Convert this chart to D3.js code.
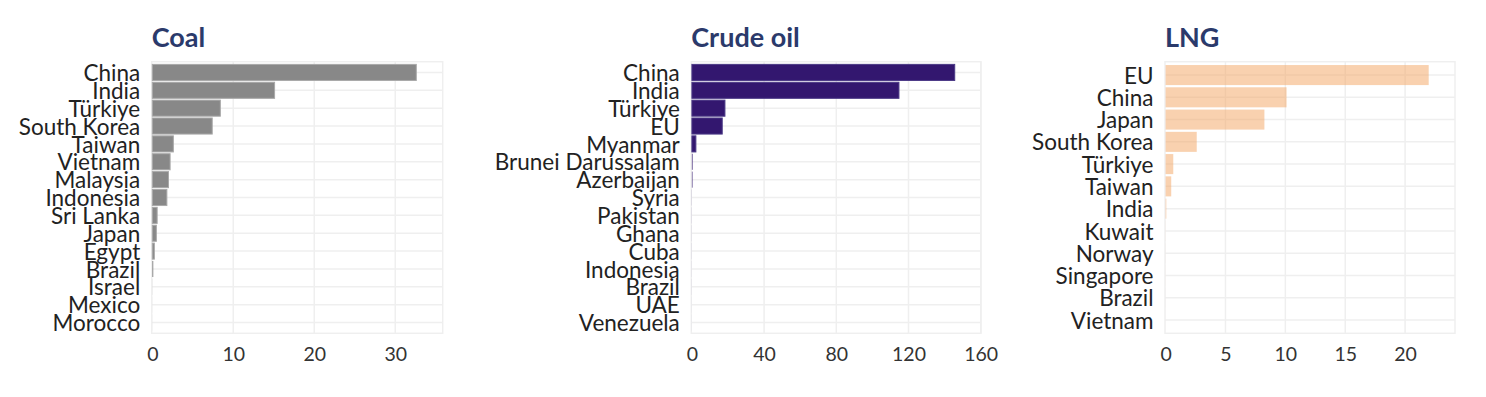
<!DOCTYPE html>
<html><head><meta charset="utf-8">
<script src="https://cdn.jsdelivr.net/npm/d3@7"></script>
<style>
html,body{margin:0;padding:0;background:#fff;}
svg{display:block;}
text{font-family:Lato,"Noto Sans",sans-serif;}
</style></head><body>
<svg id="chart" width="1486" height="397"></svg>
<script>
// ---- data ----
const coalCountries = ["China","India","Türkiye","South Korea","Taiwan","Vietnam","Malaysia","Indonesia","Sri Lanka","Japan","Egypt","Brazil","Israel","Mexico","Morocco"];
const coalValues = [32.6,15.1,8.4,7.4,2.6,2.2,2.0,1.8,0.6,0.5,0.25,0.12,0.01,0.005,0.005];
const coalTicks = [0,10,20,30];

const crudeCountries = ["China","India","Türkiye","EU","Myanmar","Brunei Darussalam","Azerbaijan","Syria","Pakistan","Ghana","Cuba","Indonesia","Brazil","UAE","Venezuela"];
const crudeValues = [145.6,114.7,18.3,16.8,2.2,0.35,0.3,0.05,0.04,0.03,0.03,0.02,0.02,0.01,0.01];
const crudeTicks = [0,40,80,120,160];

const lngCountries = ["EU","China","Japan","South Korea","Türkiye","Taiwan","India","Kuwait","Norway","Singapore","Brazil","Vietnam"];
const lngValues = [21.97,10.1,8.25,2.6,0.64,0.47,0.06,0.005,0.004,0.003,0.002,0.001];
const lngTicks = [0,5,10,15,20];

const titles = ["Coal","Crude oil","LNG"];

// ---- layout ----
const svg = d3.select("#chart");
const panels = [
  {title:titles[0], cats:coalCountries, vals:coalValues, ticks:coalTicks, x0:151.7, x1:442.7, fill:"#888888", stroke:"#a9a9a9", opacity:1},
  {title:titles[1], cats:crudeCountries, vals:crudeValues, ticks:crudeTicks, x0:691.3, x1:981, fill:"#33176f", stroke:"#4b3a86", opacity:1},
  {title:titles[2], cats:lngCountries, vals:lngValues, ticks:lngTicks, x0:1165, x1:1455, fill:"#f4a460", stroke:"none", opacity:0.5}
];
const y0 = 61.7, y1 = 333.3;
const grid = "#efefef";

panels.forEach(p => {
  const g = svg.append("g");
  const zeroX = p.x0 + 0.6;
  const x = d3.scaleLinear().domain([0, d3.max(p.vals)*1.1]).range([zeroX, p.x1]);
  const y = d3.scalePoint().domain(p.cats).range([y0, y1]).padding(0.6);
  const step = y.step();

  // panel border
  g.append("rect").attr("x", p.x0).attr("y", y0).attr("width", p.x1-p.x0).attr("height", y1-y0)
    .attr("fill","none").attr("stroke",grid).attr("stroke-width",1.5);
  // vertical gridlines
  g.selectAll(".vg").data(p.ticks.filter(t=>t>0)).join("line")
    .attr("x1", d=>x(d)).attr("x2", d=>x(d)).attr("y1", y0).attr("y2", y1)
    .attr("stroke",grid).attr("stroke-width",1.5);
  // horizontal gridlines
  g.selectAll(".hg").data(p.cats).join("line")
    .attr("x1", p.x0).attr("x2", p.x1).attr("y1", d=>y(d)).attr("y2", d=>y(d))
    .attr("stroke",grid).attr("stroke-width",1.5);

  // bars
  g.selectAll(".bar").data(p.cats).join("rect")
    .attr("x", x(0))
    .attr("y", d=>y(d) - step*0.45)
    .attr("width", (d,i)=>Math.max(0, x(p.vals[i]) - x(0)))
    .attr("height", step*0.9)
    .attr("fill", p.fill).attr("fill-opacity", p.opacity)
    .attr("stroke", (d,i)=> (p.stroke==="none" || x(p.vals[i]) - x(0) < 2) ? "none" : p.stroke)
    .attr("stroke-width", 1);

  // category labels
  const yAxis = d3.axisLeft(y).tickSize(0).tickPadding(0);
  const ya = g.append("g").attr("transform", `translate(${p.x0-11.5},0)`).call(yAxis);
  ya.select(".domain").remove();
  ya.selectAll("text").attr("font-size", 22.5).attr("fill","#222").attr("dy","0.36em")
    .style("font-family","Lato, 'Noto Sans', sans-serif");

  // x tick labels
  const xAxis = d3.axisBottom(x).tickValues(p.ticks).tickSize(0).tickPadding(0).tickFormat(d3.format("d"));
  const xa = g.append("g").attr("transform", `translate(0,${y1})`).call(xAxis);
  xa.select(".domain").remove();
  xa.selectAll("text").attr("font-size", 19.5).attr("fill","#333").attr("dy", null).attr("y", 28)
    .style("font-family","Lato, 'Noto Sans', sans-serif");

  // title
  g.append("text").attr("x", p.x0).attr("y", 46.5).text(p.title)
    .attr("font-size", 27).attr("font-weight", 700).attr("fill", "#2b3a6b");
});
</script>
</body></html>
